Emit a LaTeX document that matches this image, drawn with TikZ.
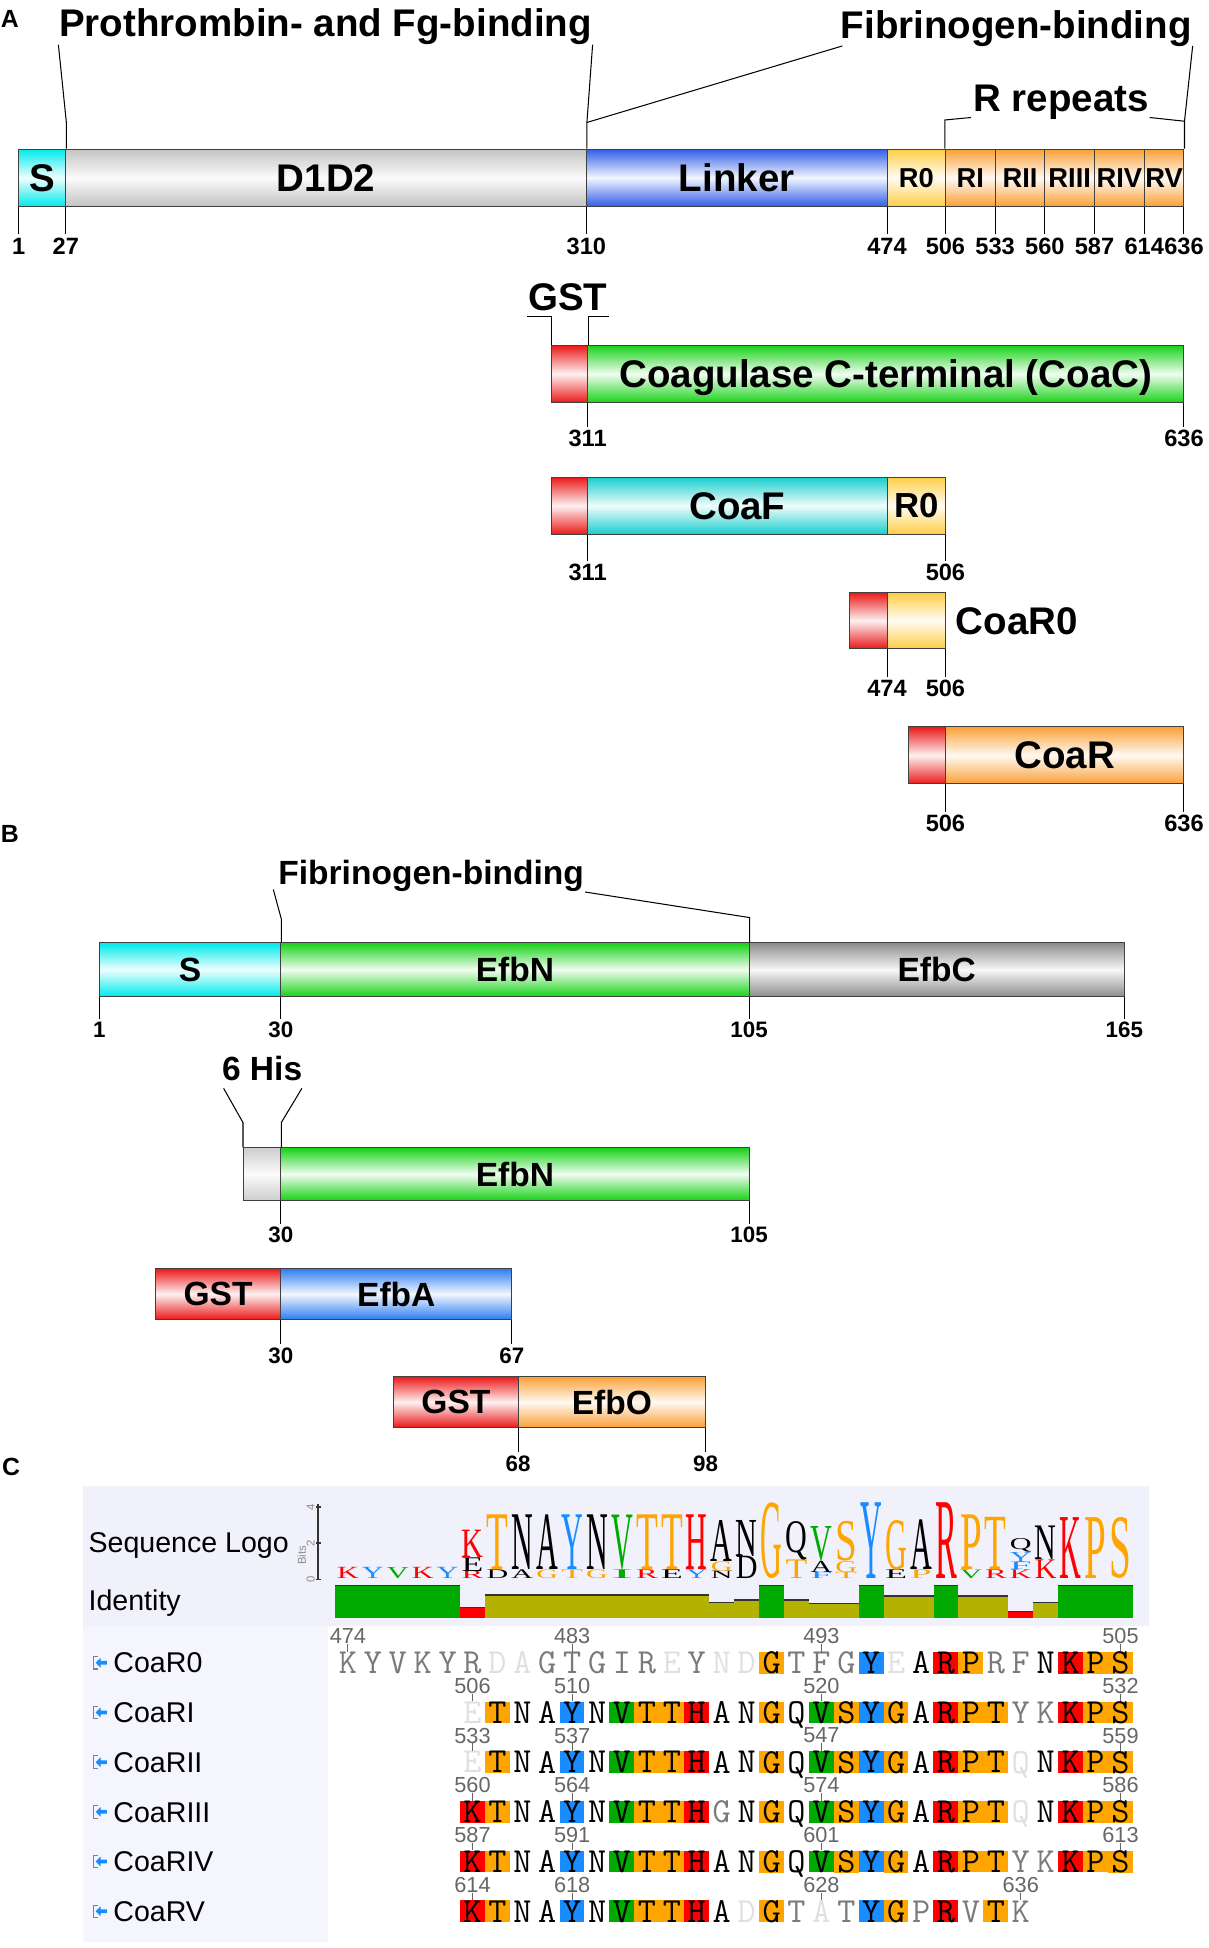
\documentclass[tikz,border=0pt]{standalone}
\usepackage{fontspec}
\setmainfont{Liberation Sans}
\newfontfamily\logofont{Liberation Serif}
\usepackage{graphicx}

\newlength{\uu}
\setlength{\uu}{0.6pt}

% domain colours
\definecolor{cyS}{RGB}{0,235,235}
\definecolor{cyF}{RGB}{25,205,205}
\definecolor{grD}{RGB}{195,195,195}
\definecolor{blL}{RGB}{50,95,230}
\definecolor{yeR}{RGB}{255,205,70}
\definecolor{orR}{RGB}{250,160,55}
\definecolor{grnD}{RGB}{25,210,25}
\definecolor{reG}{RGB}{235,25,25}
\definecolor{grC}{RGB}{140,140,140}
\definecolor{grH}{RGB}{205,205,205}
\definecolor{blA}{RGB}{45,125,240}

% alignment colours
\definecolor{aaor}{RGB}{255,165,0}
\definecolor{aabl}{RGB}{25,140,255}
\definecolor{aagr}{RGB}{0,170,0}
\definecolor{aare}{RGB}{255,0,0}
\definecolor{idol}{RGB}{180,178,0}
\definecolor{hdrbg}{RGB}{240,241,250}
\definecolor{colbg}{RGB}{244,245,253}
\colorlet{bgo}{aaor}\colorlet{bgb}{aabl}\colorlet{bgg}{aagr}\colorlet{bgr}{aare}
\colorlet{bgn}{white}\colorlet{bgm}{white}\colorlet{bgl}{white}
\colorlet{txo}{black}\colorlet{txb}{black}\colorlet{txg}{black}\colorlet{txr}{black}
\colorlet{txn}{black}\colorlet{txm}{black!52}\colorlet{txl}{black!12}

% fonts
\newcommand{\fbig}{\fontsize{18.6}{20}\selectfont\bfseries}
\newcommand{\fmid}{\fontsize{16.2}{18}\selectfont\bfseries}
\newcommand{\fsmall}{\fontsize{13.2}{15}\selectfont\bfseries}
\newcommand{\fmidR}{\fontsize{16.8}{18}\selectfont\bfseries}
\newcommand{\fnum}{\fontsize{11.4}{13}\selectfont\bfseries}
\newcommand{\fnumb}{\fontsize{10.8}{12}\selectfont\bfseries}
\newcommand{\fpanel}{\fontsize{12}{14}\selectfont\bfseries}
\newcommand{\flabel}{\fontsize{13.8}{16}\selectfont}
\newcommand{\fpos}{\fontsize{10.5}{12}\selectfont}
\newcommand{\fres}{\fontsize{17}{18}\selectfont\ttfamily}
\newcommand{\ftiny}{\fontsize{5.5}{6}\selectfont}

% one shaded domain: name, x1, x2, y1, y2, colour, label
\newcommand{\domain}[7]{%
  \node[seg=#6, minimum width={(#3-#2)*\uu}, minimum height={(#5-#4)*\uu}]
    (#1) at ({(#2+#3)/2},{(#4+#5)/2}) {#7};}
% one logo letter: column, bottom, height, colour, letter
\newcommand{\lgchar}[5]{%
  \node[inner sep=0pt, anchor=south] (lg#1#5) at ({270+20.06*(#1+0.5)},#2)
    {\resizebox*{17.5\uu}{#3\uu}{\logofont\color{#4}#5}};}

\begin{document}
\begin{tikzpicture}[x=\uu, y=-\uu,
  seg/.style={draw=black!75, line width=0.5pt, inner sep=0pt, text depth=0pt,
    top color=#1, bottom color=#1, middle color=#1!6},
  lbl/.style={font=\fbig, anchor=base, inner sep=0pt},
  lblb/.style={font=\fmid, anchor=base, inner sep=0pt},
  num/.style={font=\fnum, inner sep=1.5pt, text depth=0pt},
  numb/.style={font=\fnumb, inner sep=1.5pt, text depth=0pt},
  panel/.style={font=\fpanel, anchor=base, inner sep=0pt},
  link/.style={line width=0.5pt},
  res/.style={font=\fres, inner sep=0pt, text depth=0pt,
    minimum width={20.4*\uu}, minimum height={17.4*\uu}},
  resnum/.style={font=\fpos, text=black!60, inner sep=0pt, text depth=0pt},
  postick/.style={black!60, line width=0.5pt},
  rowlbl/.style={font=\flabel, anchor=base west, inner sep=0pt},
  bitsnum/.style={font=\ftiny, text=black!45, inner sep=0pt}]

\useasboundingbox (0,0) rectangle (973,1568);

% ---------------- Panel A ----------------
\node[panel] (A) at (8,22) {A};

% full coagulase
\domain{aS}{15}{53}{120}{166}{cyS}{\fbig S}
\domain{aD}{53}{472}{120}{166}{grD}{\fbig D1D2}
\domain{aL}{472}{714}{120}{166}{blL}{\fbig Linker}
\domain{aR0}{714}{761}{120}{166}{yeR}{\fsmall R0}
\domain{aRI}{761}{801}{120}{166}{orR}{\fsmall RI}
\domain{aRII}{801}{841}{120}{166}{orR}{\fsmall RII}
\domain{aRIII}{841}{881}{120}{166}{orR}{\fsmall RIII}
\domain{aRIV}{881}{921}{120}{166}{orR}{\fsmall RIV}
\domain{aRV}{921}{953}{120}{166}{orR}{\fsmall RV}
\foreach \x/\n in {15/1, 53/27, 472/310, 714/474, 761/506, 801/533, 841/560, 881/587, 921/614, 953/636} {
  \node[num] (m\n) at (\x,198) {\n};
  \draw[link] (m\n.north |- aS.south) -- (m\n.north);
}

% binding regions
\node[lbl] (pfg) at (262,29) {Prothrombin- and Fg-binding};
\node[lbl] (fib) at (818,31) {Fibrinogen-binding};
\node[lbl] (rrep) at (854,90) {R repeats};
\coordinate (pfgL) at (47,36);
\coordinate (pfgR) at (477,36);
\coordinate (fibL) at (678,37);
\coordinate (fibR) at (960,37);
\draw[link] (aS.north east) -- ++(0,-21) -- (pfgL);
\draw[link] (aD.north east) -- ++(0,-21) coordinate (b310) -- (pfgR);
\draw[link] (b310) -- (fibL);
\draw[link] (aRV.north east) -- ++(0,-22) coordinate (b636) -- (fibR);
\draw[link] (aRI.north west) -- ++(0,-23) -- ++(21,-2);
\draw[link] (b636) -- ++(-28,-3);

% CoaC
\domain{cG}{444}{473}{278}{324}{reG}{}
\domain{cC}{473}{953}{278}{324}{grnD}{\fbig Coagulase C-terminal (CoaC)}
\node[lbl] (gstA) at (457,250) {GST};
\draw[link] (cG.north west) -- ++(0,-23) -- ++(-19,0);
\draw[link] (cG.north east) -- ++(0,-23) -- ++(17,0);
\foreach \x/\n in {473/311, 953/636} {
  \node[num] (nc\n) at (\x,353) {\n};
  \draw[link] (nc\n.north |- cC.south) -- (nc\n.north);
}

% CoaF
\domain{fG}{444}{473}{384}{430}{reG}{}
\domain{fF}{473}{714}{384}{430}{cyF}{\fbig CoaF}
\domain{fR}{714}{761}{384}{430}{yeR}{\fmidR R0}
\foreach \x/\n in {473/311, 761/506} {
  \node[num] (nf\n) at (\x,461) {\n};
  \draw[link] (nf\n.north |- fF.south) -- (nf\n.north);
}

% CoaR0
\domain{zG}{684}{714}{477}{522}{reG}{}
\domain{zR}{714}{761}{477}{522}{yeR}{}
\node[font=\fbig, anchor=west, inner sep=0pt, text depth=0pt] (zlbl) at (769,500) {CoaR0};
\foreach \x/\n in {714/474, 761/506} {
  \node[num] (nz\n) at (\x,554) {\n};
  \draw[link] (nz\n.north |- zR.south) -- (nz\n.north);
}

% CoaR
\domain{rG}{731}{761}{585}{631}{reG}{}
\domain{rR}{761}{953}{585}{631}{orR}{\fbig CoaR}
\foreach \x/\n in {761/506, 953/636} {
  \node[num] (nr\n) at (\x,663) {\n};
  \draw[link] (nr\n.north |- rR.south) -- (nr\n.north);
}

% ---------------- Panel B ----------------
\node[panel] (B) at (8,678) {B};

% full Efb
\domain{bS}{80}{226}{759}{802}{cyS}{\fmid S}
\domain{bN}{226}{603}{759}{802}{grnD}{\fmid EfbN}
\domain{bC}{603}{905}{759}{802}{grC}{\fmid EfbC}
\foreach \x/\n in {80/1, 226/30, 603/105, 905/165} {
  \node[numb] (nb\n) at (\x,829) {\n};
  \draw[link] (nb\n.north |- bS.south) -- (nb\n.north);
}
\node[lblb] (fibB) at (347,712) {Fibrinogen-binding};
\coordinate (fbL) at (220,716);
\coordinate (fbR) at (471,718);
\draw[link] (bS.north east) -- ++(0,-19) -- (fbL);
\draw[link] (bN.north east) -- ++(0,-20) -- (fbR);

% His-tagged EfbN
\domain{hH}{196}{226}{924}{966}{grH}{}
\domain{hN}{226}{603}{924}{966}{grnD}{\fmid EfbN}
\node[lblb] (his) at (211,870) {6 His};
\coordinate (hisL) at (180,876);
\coordinate (hisR) at (243,876);
\draw[link] (hH.north west) -- ++(0,-20) -- (hisL);
\draw[link] (hH.north east) -- ++(0,-20) -- (hisR);
\foreach \x/\n in {226/30, 603/105} {
  \node[numb] (nh\n) at (\x,994) {\n};
  \draw[link] (nh\n.north |- hN.south) -- (nh\n.north);
}

% GST-EfbA
\domain{eG}{125}{226}{1021}{1062}{reG}{\fmid GST}
\domain{eA}{226}{412}{1021}{1062}{blA}{\fmid EfbA}
\foreach \x/\n in {226/30, 412/67} {
  \node[numb] (ne\n) at (\x,1091) {\n};
  \draw[link] (ne\n.north |- eA.south) -- (ne\n.north);
}

% GST-EfbO
\domain{oG}{317}{417}{1108}{1149}{reG}{\fmid GST}
\domain{oO}{417}{568}{1108}{1149}{orR}{\fmid EfbO}
\foreach \x/\n in {417/68, 568/98} {
  \node[numb] (no\n) at (\x,1178) {\n};
  \draw[link] (no\n.north |- oO.south) -- (no\n.north);
}

% ---------------- Panel C ----------------
\node[panel] (C) at (9,1188) {C};
\fill[hdrbg] (67,1196) rectangle (925,1309);
\fill[colbg] (67,1309) rectangle (264,1563);
\node[rowlbl] (slogo) at (71,1250) {Sequence Logo};
\node[rowlbl] (ident) at (71,1296) {Identity};

% bits axis
\draw[line width=0.6pt, black!80] (256,1211) -- (256,1271);
\foreach \y/\v in {1213/4, 1242/2, 1271/0} {
  \draw[line width=0.5pt, black!80] (254,\y) -- (258,\y);
  \node[bitsnum, rotate=90] (bit\v) at (250,\y) {\v};
}
\node[bitsnum, rotate=90] (bits) at (243,1252) {Bits};

% identity bars
\foreach \a/\b/\t/\c in {0/5/1276/aagr, 5/6/1294/aare, 6/15/1284/idol, 15/16/1290/idol,
    16/17/1288/idol, 17/18/1276/aagr, 18/19/1288/idol, 19/21/1290.5/idol, 21/22/1276/aagr,
    22/24/1284.5/idol, 24/25/1276/aagr, 25/27/1284.5/idol, 27/28/1297/aare,
    28/29/1290/idol, 29/32/1276/aagr} {
  \fill[fill=\c] ({270+20.06*\a},\t) rectangle ({270+20.06*\b},1302);
  \draw[line width=0.7pt, black!80] ({270+20.06*\a},\t) -- ({270+20.06*\b},\t);
}

% sequence logo
\lgchar{0}{1271}{9}{aare}{K}
\lgchar{1}{1271}{9}{aabl}{Y}
\lgchar{2}{1271}{9}{aagr}{V}
\lgchar{3}{1271}{9}{aare}{K}
\lgchar{4}{1271}{9}{aabl}{Y}
\lgchar{5}{1271}{6}{aare}{R}
\lgchar{5}{1265}{11}{black}{E}
\lgchar{5}{1254}{22}{aare}{K}
\foreach \c/\sl/\sc/\bl/\bc in {6/D/black/T/aaor, 7/A/black/N/black, 8/G/aaor/A/black,
    9/T/aaor/Y/aabl, 10/G/aaor/N/black, 11/I/aagr/V/aagr, 12/R/aare/T/aaor,
    13/E/black/T/aaor, 14/Y/aabl/H/aare} {
  \lgchar{\c}{1271}{7}{\sc}{\sl}
  \lgchar{\c}{1264}{44}{\bc}{\bl}
}
\lgchar{15}{1271}{6}{black}{N}
\lgchar{15}{1265}{8}{aaor}{G}
\lgchar{15}{1257}{33}{black}{A}
\lgchar{16}{1271}{18}{black}{D}
\lgchar{16}{1253}{29}{black}{N}
\lgchar{17}{1271}{61}{aaor}{G}
\lgchar{18}{1271}{15}{aaor}{T}
\lgchar{18}{1256}{31}{black}{Q}
\lgchar{19}{1271}{5}{aabl}{F}
\lgchar{19}{1266}{9}{black}{A}
\lgchar{19}{1257}{28}{aagr}{V}
\lgchar{20}{1271}{5}{aaor}{T}
\lgchar{20}{1266}{9}{aaor}{G}
\lgchar{20}{1257}{32}{aaor}{S}
\lgchar{21}{1271}{61}{aabl}{Y}
\lgchar{22}{1271}{7}{black}{E}
\lgchar{22}{1264}{40}{aaor}{G}
\lgchar{23}{1271}{7}{aaor}{P}
\lgchar{23}{1264}{40}{black}{A}
\lgchar{24}{1271}{61}{aare}{R}
\lgchar{25}{1271}{7}{aagr}{V}
\lgchar{25}{1264}{44}{aaor}{P}
\lgchar{26}{1271}{7}{aare}{R}
\lgchar{26}{1264}{42}{aaor}{T}
\lgchar{27}{1271}{7}{aare}{K}
\lgchar{27}{1264}{6}{aabl}{F}
\lgchar{27}{1258}{8}{aabl}{Y}
\lgchar{27}{1250}{11}{black}{Q}
\lgchar{28}{1271}{15}{aare}{K}
\lgchar{28}{1256}{27}{black}{N}
\lgchar{29}{1271}{49}{aare}{K}
\lgchar{30}{1271}{49}{aaor}{P}
\lgchar{31}{1271}{49}{aaor}{S}

% row names with icons
\foreach \nm/\Y in {CoaR0/1338.4, CoaRI/1378.4, CoaRII/1418.4, CoaRIII/1458.4, CoaRIV/1498.4, CoaRV/1538.4} {
  \draw[black!50, line width=0.5pt] (79,\Y-5) -- (75,\Y-5) -- (75,\Y+5) -- (79,\Y+5);
  \fill[aabl] (77,\Y) -- (81,\Y-4) -- (81,\Y-1.5) -- (86,\Y-1.5) -- (86,\Y+1.5) -- (81,\Y+1.5) -- (81,\Y+4) -- cycle;
  \node[rowlbl] (l\nm) at (91,\Y+8.2) {\nm};
}

% alignment rows
\foreach \ch/\st [count=\i from 0] in {K/m,Y/m,V/m,K/m,Y/m,R/m,D/l,A/l,G/m,T/m,G/m,I/m,R/m,E/l,Y/m,N/l,
    D/l,G/o,T/m,F/m,G/m,Y/b,E/l,A/n,R/r,P/o,R/m,F/m,N/n,K/r,P/o,S/o}
  \node[res, fill=bg\st, text=tx\st] (r0-\i) at ({270+20.06*(\i+0.5)},1338.4) {\ch};
\foreach \ch/\st [count=\i from 5] in {E/l,T/o,N/n,A/n,Y/b,N/n,V/g,T/o,T/o,H/r,A/n,N/n,G/o,Q/n,
    V/g,S/o,Y/b,G/o,A/n,R/r,P/o,T/o,Y/m,K/m,K/r,P/o,S/o}
  \node[res, fill=bg\st, text=tx\st] (r1-\i) at ({270+20.06*(\i+0.5)},1378.4) {\ch};
\foreach \ch/\st [count=\i from 5] in {E/l,T/o,N/n,A/n,Y/b,N/n,V/g,T/o,T/o,H/r,A/n,N/n,G/o,Q/n,
    V/g,S/o,Y/b,G/o,A/n,R/r,P/o,T/o,Q/l,N/n,K/r,P/o,S/o}
  \node[res, fill=bg\st, text=tx\st] (r2-\i) at ({270+20.06*(\i+0.5)},1418.4) {\ch};
\foreach \ch/\st [count=\i from 5] in {K/r,T/o,N/n,A/n,Y/b,N/n,V/g,T/o,T/o,H/r,G/m,N/n,G/o,Q/n,
    V/g,S/o,Y/b,G/o,A/n,R/r,P/o,T/o,Q/l,N/n,K/r,P/o,S/o}
  \node[res, fill=bg\st, text=tx\st] (r3-\i) at ({270+20.06*(\i+0.5)},1458.4) {\ch};
\foreach \ch/\st [count=\i from 5] in {K/r,T/o,N/n,A/n,Y/b,N/n,V/g,T/o,T/o,H/r,A/n,N/n,G/o,Q/n,
    V/g,S/o,Y/b,G/o,A/n,R/r,P/o,T/o,Y/m,K/m,K/r,P/o,S/o}
  \node[res, fill=bg\st, text=tx\st] (r4-\i) at ({270+20.06*(\i+0.5)},1498.4) {\ch};
\foreach \ch/\st [count=\i from 5] in {K/r,T/o,N/n,A/n,Y/b,N/n,V/g,T/o,T/o,H/r,A/n,D/l,G/o,T/m,
    A/l,T/m,Y/b,G/o,P/m,R/r,V/m,T/o,K/m}
  \node[res, fill=bg\st, text=tx\st] (r5-\i) at ({270+20.06*(\i+0.5)},1538.4) {\ch};

% residue numbers
\foreach \row/\Y/\c/\n in {0/1338.4/0/474, 0/1338.4/9/483, 0/1338.4/19/493, 0/1338.4/31/505,
    1/1378.4/5/506, 1/1378.4/9/510, 1/1378.4/19/520, 1/1378.4/31/532,
    2/1418.4/5/533, 2/1418.4/9/537, 2/1418.4/19/547, 2/1418.4/31/559,
    3/1458.4/5/560, 3/1458.4/9/564, 3/1458.4/19/574, 3/1458.4/31/586,
    4/1498.4/5/587, 4/1498.4/9/591, 4/1498.4/19/601, 4/1498.4/31/613,
    5/1538.4/5/614, 5/1538.4/9/618, 5/1538.4/19/628, 5/1538.4/27/636} {
  \node[resnum] (p\n) at ({270+20.06*(\c+0.5)},\Y-21.5) {\n};
  \draw[postick] (p\n.south) -- (r\row-\c.north);
}

\end{tikzpicture}
\end{document}
